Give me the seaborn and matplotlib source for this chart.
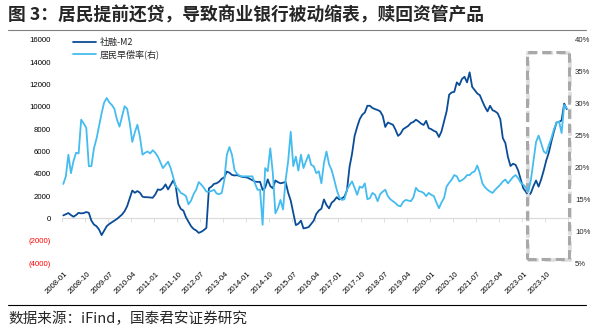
import numpy as np
import pandas as pd
import matplotlib
matplotlib.use("Agg")
import matplotlib.pyplot as plt
import matplotlib.transforms as mtransforms
from matplotlib.patches import Rectangle
from matplotlib.lines import Line2D
import seaborn as sns

# ---- data (monthly, 2008-01 .. 2024-06) ----
months = pd.date_range("2008-01-01", "2024-06-01", freq="MS").strftime("%Y-%m").tolist()

tsf_m2 = [  # 社融-M2 (left axis)
    270, 380, 480, 300, 150, 300, 500, 450, 480, 570, 500, -200,
    -550, -700, -1000, -1500, -1100, -700, -500, -350, -200, -50, 150, 350,
    650, 1100, 1800, 2500, 2300, 2450, 2300, 1950, 1900, 1900, 1880, 1850,
    2150, 2600, 2550, 2700, 3050, 2600, 3000, 3400, 2900, 1300, 850, 700,
    100, -300, -700, -950, -1080, -1300, -1200, -1050, -850, 2700, 2850, 3100,
    3150, 3300, 3550, 3680, 4200, 4100, 3900, 3850, 3880, 3800, 3720, 3700,
    3660, 3550, 3420, 3300, 3270, 3280, 2550, 2750, 3500, 2900, 2700, 3400,
    3250, 3150, 3200, 3270, 2300, 1600, 500, -600, -480, -200, -900, -850,
    -780, -500, -200, 400, 700, 870, 1700, 1200, 900, 1400, 1600, 1900,
    1700, 1800, 1950, 2500, 4600, 5800, 7400, 8200, 8900, 9300, 9500, 10100,
    10100, 9900, 9800, 9720, 9600, 9200, 8200, 8600, 8500, 8400, 7950, 7400,
    7600, 8000, 8150, 8300, 8550, 8650, 8850, 8700, 8500, 8380, 8750, 8100,
    8000, 7850, 7750, 7300, 7800, 8700, 9600, 11100, 11300, 11350, 12200, 11950,
    12500, 12700, 12200, 13100, 11800, 11500, 11200, 11050, 10500, 10000, 9600, 10100,
    9700, 9600, 9420, 8900, 7200, 6750, 5500, 4700, 4900, 4800, 4300, 3500,
    2700, 2400, 2000, 2300, 2900, 3400, 2850, 3500, 4300, 5200, 5900, 6900,
    7800, 8600, 8650, 8800, 10300, 9800,
]

prepay = [  # 居民早偿率 (%) (right axis)
    17.4, 18.6, 22.0, 19.1, 21.0, 22.3, 22.2, 27.5, 26.9, 26.2, 20.2, 20.2,
    23.0, 24.5, 26.5, 28.5, 30.2, 30.9, 30.2, 29.8, 29.2, 27.5, 26.4, 28.0,
    29.6, 29.2, 27.0, 24.0, 25.5, 26.7, 24.8, 22.0, 22.3, 22.5, 22.2, 22.7,
    22.3, 21.7, 20.8, 19.9, 20.4, 20.9, 19.9, 18.5, 17.0, 16.6, 16.0, 15.8,
    15.5, 14.2, 14.8, 15.8, 16.5, 17.7, 17.3, 16.8, 16.2, 16.2, 16.3, 16.5,
    15.9, 15.8, 16.0, 18.0, 22.0, 23.2, 22.0, 19.6, 19.0, 18.7, 18.6, 18.6,
    18.6, 18.6, 18.6, 17.5, 16.5, 16.5, 11.0, 19.9, 19.4, 23.0, 19.1, 12.8,
    13.6, 14.9, 13.4, 18.0, 21.0, 25.6, 20.2, 21.7, 19.5, 22.0, 19.9, 21.0,
    22.0, 20.4, 20.2, 19.1, 19.4, 17.5, 20.7, 22.5, 20.5, 19.6, 18.1, 16.5,
    15.3, 14.9, 15.0, 16.5, 17.2, 17.8, 16.8, 15.7, 17.0, 16.8, 17.5, 15.0,
    15.2, 16.0, 15.7, 14.7, 15.8, 16.2, 16.5, 15.5, 15.0, 14.7, 14.4, 14.0,
    13.9, 14.6, 14.9, 14.8, 14.7, 15.3, 16.8, 16.3, 16.2, 16.0, 15.5, 16.0,
    15.7, 15.5, 14.5, 13.6, 14.5, 15.2, 17.0, 17.6, 18.1, 18.8, 18.6, 17.8,
    18.0, 18.3, 18.8, 18.8, 19.2, 19.4, 20.3, 19.1, 17.5, 16.9, 16.5, 16.2,
    16.0, 16.5, 16.9, 17.3, 17.8, 18.1, 17.5, 18.0, 18.5, 18.8, 18.3, 17.6,
    17.3, 16.8, 16.2, 18.1, 21.0, 24.0, 25.0, 23.8, 22.5, 22.2, 23.5, 24.6,
    26.0, 27.0, 27.2, 25.4, 29.8, 29.3,
]

series_names = ["社融-M2", "居民早偿率(右)"]
left_ticks = [-4000, -2000, 0, 2000, 4000, 6000, 8000, 10000, 12000, 14000, 16000]
right_ticks = [5, 10, 15, 20, 25, 30, 35, 40]
label_step = 9
title = "图 3：居民提前还贷，导致商业银行被动缩表，赎回资管产品"
source = "数据来源：iFind，国泰君安证券研究"

df = pd.DataFrame({"idx": np.arange(len(months)), "month": months,
                   "tsf": tsf_m2, "prepay": prepay})

# ---- style ----
sns.set_theme(style="white")
plt.rcParams["font.family"] = ["Liberation Sans", "Noto Sans CJK SC", "DejaVu Sans"]
cjk = ["Noto Sans CJK SC", "DejaVu Sans"]

dark = "#0B4C98"
light = "#45BCEF"

fig = plt.figure(figsize=(5.93, 3.26), dpi=100)
ax = fig.add_axes([62 / 593, 1 - 263 / 326, (568 - 62) / 593, (263 - 40) / 326])
ax2 = ax.twinx()

sns.lineplot(data=df, x="idx", y="tsf", ax=ax, color=dark, lw=1.3, legend=False)
sns.lineplot(data=df, x="idx", y="prepay", ax=ax2, color=light, lw=1.3, legend=False)

n = len(months)
ax.set_xlim(-0.5, n - 0.5)
ax.set_ylim(left_ticks[0], left_ticks[-1])
ax2.set_ylim(right_ticks[0], right_ticks[-1])
ax.set_xlabel("")
ax.set_ylabel("")
ax2.set_ylabel("")

for a in (ax, ax2):
    for s in a.spines.values():
        s.set_visible(False)
    a.grid(False)

# left ticks
ax.set_yticks(left_ticks)
ax.set_yticklabels([f"({abs(v)})" if v < 0 else f"{v}" for v in left_ticks])
for lab, v in zip(ax.get_yticklabels(), left_ticks):
    lab.set_color("#FF0000" if v < 0 else "black")
ax.tick_params(axis="y", length=0, pad=8, labelsize=5.6)

# right ticks
ax2.set_yticks(right_ticks)
ax2.set_yticklabels([f"{v}%" for v in right_ticks])
ax2.tick_params(axis="y", length=0, pad=5, labelsize=5.6)

# x labels at bottom
pos = list(range(0, n, label_step))[:22]
ax.set_xticks(pos)
ax.set_xticklabels([months[p] for p in pos], rotation=45, ha="right",
                   va="center", rotation_mode="anchor")
ax.tick_params(axis="x", length=0, pad=7, labelsize=5.6, colors="black")
offset = mtransforms.ScaledTranslation(3 / 100, 0, fig.dpi_scale_trans)
for lab in ax.get_xticklabels():
    lab.set_transform(lab.get_transform() + offset)

# zero line with tick marks
zero_frac = (0 - left_ticks[0]) / (left_ticks[-1] - left_ticks[0])
sec = ax.secondary_xaxis(zero_frac)
sec.set_xticks([p - 0.5 for p in range(0, n + 1, label_step)])
sec.set_xticklabels([])
sec.tick_params(axis="x", direction="out", length=3, width=0.6, color="#D9D9D9")
sec.spines["bottom"].set_color("#D9D9D9")
sec.spines["bottom"].set_linewidth(0.8)
for k in ("top", "left", "right"):
    if k in sec.spines:
        sec.spines[k].set_visible(False)

# dashed highlight box (with soft shadow)
bx, by, bw, bh = 181.4, -3600, 16.5, 18500
shadow = Rectangle((bx, by), bw, bh, fill=False, ec="#DDDDDD", lw=2.6,
                   ls=(0, (3, 1.6)), clip_on=False, zorder=4,
                   transform=ax.transData + mtransforms.ScaledTranslation(
                       1.2 / 100, -1.2 / 100, fig.dpi_scale_trans))
ax.add_patch(shadow)
box = Rectangle((bx, by), bw, bh, fill=False, ec="#A8A8A8",
                lw=2.2, ls=(0, (3, 1.6)), clip_on=False, zorder=5)
ax.add_patch(box)

# legend
handles = [Line2D([], [], color=dark, lw=1.3), Line2D([], [], color=light, lw=1.3)]
leg = ax.legend(handles, series_names, loc="upper left",
                bbox_to_anchor=(0.005, 1.045), frameon=False,
                handlelength=2.6, handletextpad=0.4, labelspacing=0.3,
                prop={"family": cjk, "size": 6.5})

# title, rules, source
fig.text(8 / 593, 1 - 15 / 326, title, fontsize=12.8, fontweight="bold",
         family=cjk, va="center", ha="left")
fig.add_artist(Line2D([8 / 593, 586 / 593], [1 - 30 / 326] * 2, color="#808080", lw=0.8))
fig.add_artist(Line2D([8 / 593, 586 / 593], [1 - 305 / 326] * 2, color="black", lw=0.8))
fig.text(8 / 593, 1 - 319 / 326, source, fontsize=10.5, family=cjk,
         va="center", ha="left")

fig.savefig("out.png", dpi=100)
